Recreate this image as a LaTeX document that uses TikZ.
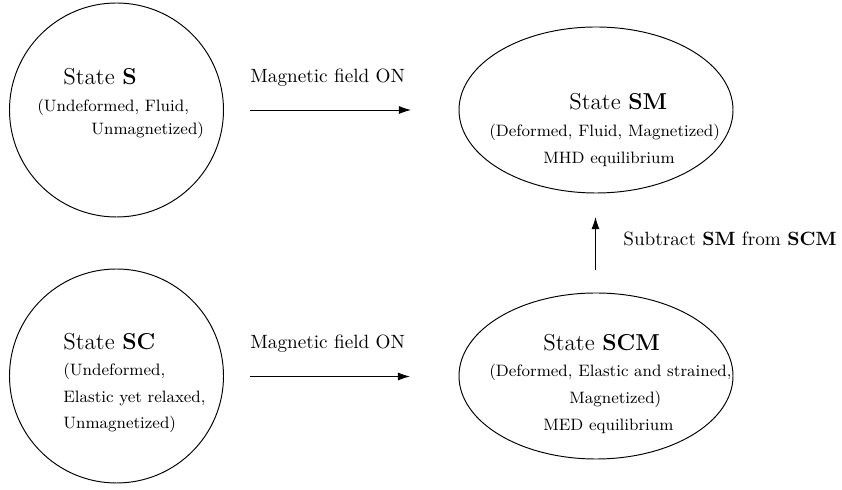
\documentclass[tikz,border=0pt]{standalone}
\usepackage{fontspec}
\usetikzlibrary{shapes.geometric,arrows.meta}
\begin{document}
\begin{tikzpicture}[x=0.521pt,y=-0.521pt,
  statecircle/.style={draw,line width=0.5pt,circle,minimum size=214*0.521pt,inner sep=0pt},
  stateellipse/.style={draw,line width=0.5pt,ellipse,minimum width=274*0.521pt,minimum height=166*0.521pt,inner sep=0pt},
  ttl/.style={anchor=base west,inner sep=0pt,font=\large},
  det/.style={anchor=base west,inner sep=0pt,font=\fontsize{8.6}{10}\selectfont},
  lbl/.style={anchor=base west,inner sep=0pt,font=\normalsize},
  arr/.style={-{Latex[length=6.3pt,width=4.2pt]},line width=0.5pt}]
\useasboundingbox (0,0) rectangle (842,490);
% shapes
\node[statecircle] (S) at (116.5,110) {};
\node[statecircle] (SC) at (116.5,376) {};
\node[stateellipse] (SM) at (596,110) {};
\node[stateellipse] (SCM) at (596,376) {};
% texts in S
\node[ttl] (tS) at (63,85) {State \textbf{S}};
\node[det] (dS1) at (37,112) {(Undeformed, Fluid,};
\node[det] (dS2) at (91,135) {Unmagnetized)};
% texts in SC
\node[ttl] (tSC) at (63,350) {State \textbf{SC}};
\node[det] (dSC1) at (63,376) {(Undeformed,};
\node[det] (dSC2) at (63,403) {Elastic yet relaxed,};
\node[det] (dSC3) at (63,429) {Unmagnetized)};
% texts in SM
\node[ttl] (tSM) at (569,110) {State \textbf{SM}};
\node[det] (dSM1) at (489,137) {(Deformed, Fluid, Magnetized)};
\node[det] (dSM2) at (543,164) {MHD equilibrium};
% texts in SCM
\node[ttl] (tSCM) at (543,351) {State \textbf{SCM}};
\node[det] (dSCM1) at (489,377) {(Deformed, Elastic and strained,};
\node[det] (dSCM2) at (569,404) {Magnetized)};
\node[det] (dSCM3) at (543,431) {MED equilibrium};
% arrows
\coordinate (a1s) at (250,110);
\coordinate (a1e) at (411,110);
\coordinate (a2s) at (250,376.5);
\coordinate (a2e) at (410,376.5);
\coordinate (a3s) at (595.5,270);
\coordinate (a3e) at (595.5,217);
\draw[arr] (a1s) -- (a1e);
\draw[arr] (a2s) -- (a2e);
\draw[arr] (a3s) -- (a3e);
\node[lbl] (l1) at (250,83) {Magnetic field ON};
\node[lbl] (l2) at (250,349) {Magnetic field ON};
\node[lbl] (l3) at (623,246) {Subtract \textbf{SM} from \textbf{SCM}};
\end{tikzpicture}
\end{document}
